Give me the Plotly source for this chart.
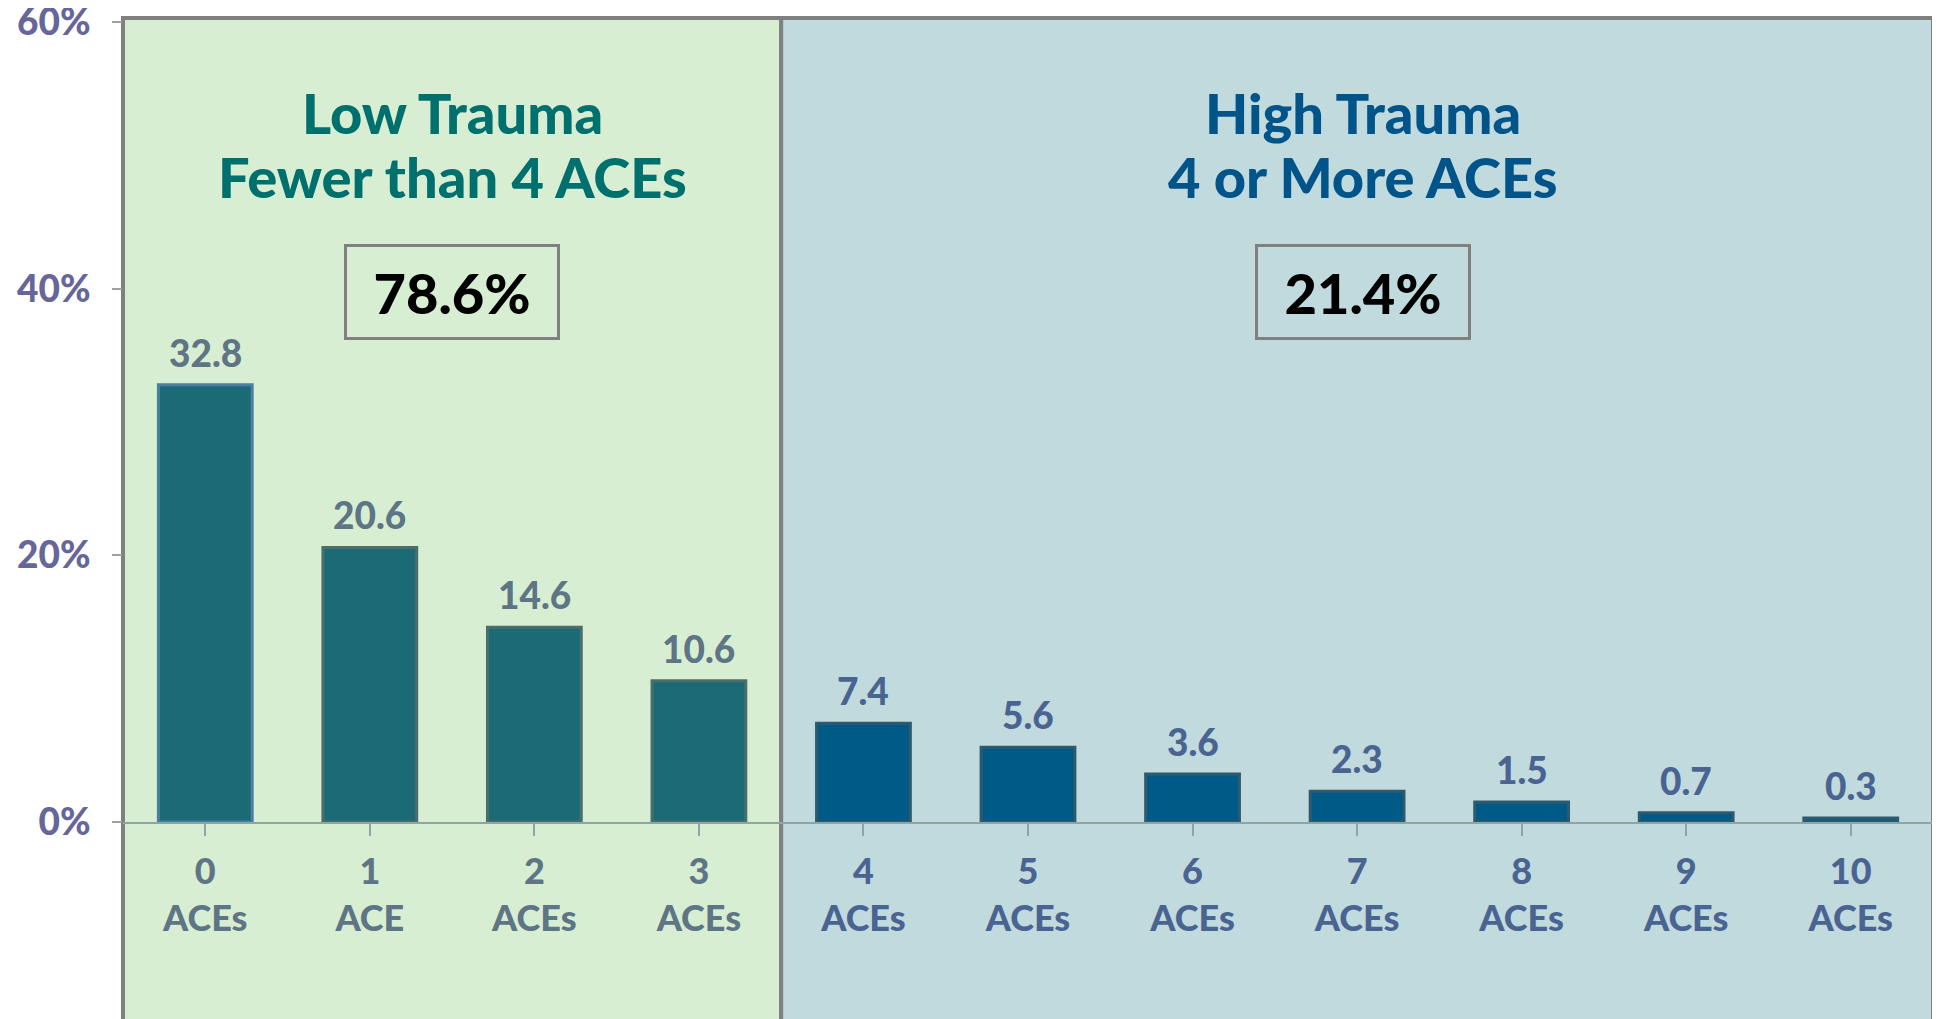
import plotly.graph_objects as go

# ACE count categories and share of respondents (%)
categories = ['0', '1', '2', '3', '4', '5', '6', '7', '8', '9', '10']
unit_labels = ['ACEs', 'ACE', 'ACEs', 'ACEs', 'ACEs', 'ACEs', 'ACEs', 'ACEs', 'ACEs', 'ACEs', 'ACEs']
values = [32.8, 20.6, 14.6, 10.6, 7.4, 5.6, 3.6, 2.3, 1.5, 0.7, 0.3]
value_labels = ['32.8', '20.6', '14.6', '10.6', '7.4', '5.6', '3.6', '2.3', '1.5', '0.7', '0.3']

group_line1 = ['Low Trauma', 'High Trauma']
group_line2 = ['Fewer than 4 ACEs', '4 or More ACEs']
group_totals = ['78.6%', '21.4%']
n_low = 4

y_ticks = [0, 20, 40, 60]
y_ticktext = ['0%', '20%', '40%', '60%']

FONT = 'Lato'
LOW_BAR = '#1B6B77'
HIGH_BAR = '#005A87'
LOW_TXT = '#5E7585'
HIGH_TXT = '#4A6492'

is_low = [i < n_low for i in range(len(categories))]
bar_colors = [LOW_BAR if lo else HIGH_BAR for lo in is_low]
line_colors = ['#4A7FA3'] + ['#4B6E6A' if lo else '#2E5A6E' for lo in is_low[1:]]
tick_text = [
    f"<span style='color:{LOW_TXT if lo else HIGH_TXT}'>{c}<br>{u}</span>"
    for c, u, lo in zip(categories, unit_labels, is_low)
]

fig = go.Figure()
fig.add_trace(go.Bar(
    x=list(range(len(categories))),
    y=values,
    width=0.57,
    marker=dict(color=bar_colors, line=dict(color=line_colors, width=3)),
    hoverinfo='skip',
    showlegend=False,
))

# value labels above bars
for i, (v, t) in enumerate(zip(values, value_labels)):
    fig.add_annotation(
        x=i, y=v, text=t, showarrow=False,
        yanchor='bottom', yshift=8,
        font=dict(family=FONT, size=37, weight=900,
                  color=LOW_TXT if is_low[i] else HIGH_TXT),
    )

# shaded group panels
split = n_low / len(categories)
fig.add_shape(type='rect', xref='paper', yref='paper',
              x0=0, x1=split, y0=-0.3, y1=1.005,
              fillcolor='#D8EED2', line=dict(color='#808080', width=4),
              layer='below')
fig.add_shape(type='rect', xref='paper', yref='paper',
              x0=split, x1=1, y0=-0.3, y1=1.005,
              fillcolor='#C1DADE', line=dict(color='#808080', width=4),
              layer='below')

# group headers and totals, centred in each panel
title_x = [split / 2, (1 + split) / 2 + 0.003]
title_colors = ['#00706F', '#00548A']
for gx, l1, l2, tot, col in zip(title_x, group_line1, group_line2, group_totals, title_colors):
    for ty, txt in [(0.8875, l1), (0.8075, l2)]:
        fig.add_annotation(
            x=gx, y=ty, xref='paper', yref='paper', text=txt, showarrow=False,
            xanchor='center', yanchor='middle',
            font=dict(family=FONT, size=56, weight=900, color=col),
        )
    fig.add_annotation(
        x=gx, y=0.6625, xref='paper', yref='paper', text=tot, showarrow=False,
        xanchor='center', yanchor='middle',
        width=206, height=86, borderpad=2,
        bordercolor='#808080', borderwidth=3,
        font=dict(family=FONT, size=56, weight=900, color='#000000'),
    )

# page body adds an 8px offset, so margins are trimmed to compensate
fig.update_layout(
    width=1940, height=1019,
    margin=dict(l=115, r=15, t=14, b=205, autoexpand=False),
    paper_bgcolor='white',
    plot_bgcolor='rgba(0,0,0,0)',
    xaxis=dict(
        range=[-0.5, len(categories) - 0.5],
        tickmode='array',
        tickvals=list(range(len(categories))),
        ticktext=tick_text,
        tickson='boundaries',
        ticks='outside', ticklen=12, tickcolor='#8DA5A5', tickwidth=1.5,
        showline=True, linecolor='#8DA5A5', linewidth=1.5,
        showgrid=False, zeroline=False,
        automargin=False,
        ticklabelstandoff=5,
        tickfont=dict(family=FONT, size=36, weight=900),
    ),
    yaxis=dict(
        range=[0, 60.01],
        tickmode='array',
        tickvals=y_ticks,
        ticktext=y_ticktext,
        ticks='outside', ticklen=10, tickcolor='#A0A0A0', tickwidth=1.5,
        showgrid=False, zeroline=False, showline=False,
        automargin=False,
        ticklabelstandoff=14,
        ticklabeloverflow='allow',
        tickfont=dict(family=FONT, size=37, weight=900, color='#66669A'),
    ),
)

fig.write_html("out.html")
